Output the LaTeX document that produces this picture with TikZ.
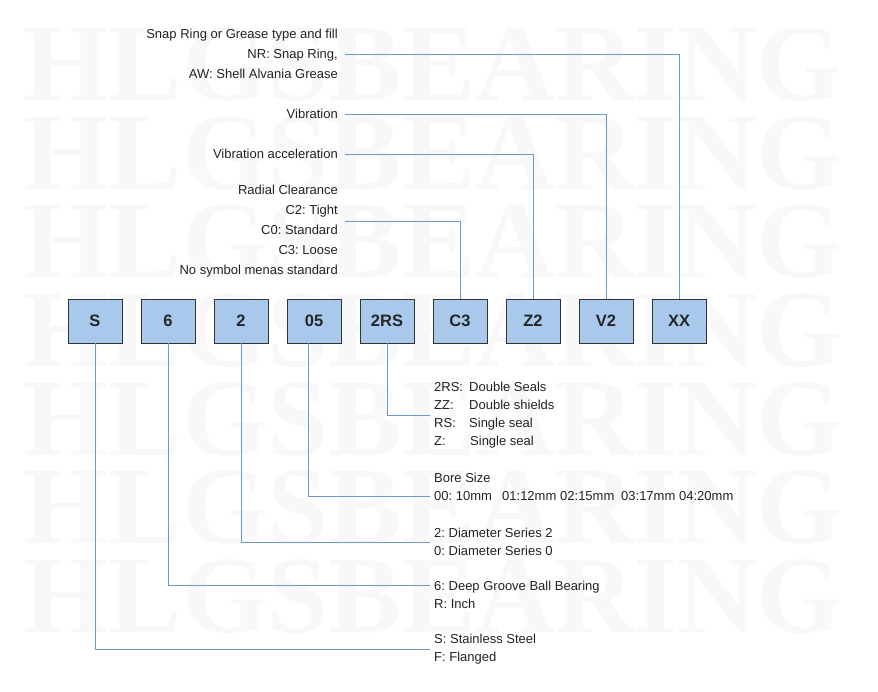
\documentclass[tikz,border=0pt]{standalone}
\usepackage{fontspec}
\setmainfont{Liberation Sans}
\newfontfamily\wmfont{Liberation Serif}
\usepackage{xcolor}
\usetikzlibrary{calc}
\frenchspacing

\definecolor{boxblue}{HTML}{A8C9EC}
\definecolor{linkblue}{HTML}{6C9BCB}
\definecolor{wmgray}{HTML}{F8F8F8}
\definecolor{txtgray}{HTML}{222222}

\begin{document}
\begin{tikzpicture}[x=1pt, y=-1pt,
  codebox/.style={draw=black!80, line width=0.8pt, fill=boxblue,
    minimum width=54pt, minimum height=44pt, inner sep=0pt,
    font=\fontsize{16.5}{16.5}\selectfont\bfseries, text=black!85},
  lefttext/.style={anchor=east, align=right, inner sep=0pt,
    font=\fontsize{13}{20}\selectfont, text=txtgray},
  righttext/.style={anchor=west, align=left, inner sep=0pt,
    font=\fontsize{13}{18}\selectfont, text=txtgray},
  wmtext/.style={anchor=base west, inner sep=0pt,
    font=\wmfont\bfseries\fontsize{110}{110}\selectfont, text=wmgray},
  link/.style={draw=linkblue, line width=0.8pt}]
  \useasboundingbox (0,0) rectangle (878,692);

  % Watermark rows
  \node[wmtext] (wm1) at (23,101) {HLGSBEARING};
  \node[wmtext] (wm2) at (23,189.5) {HLGSBEARING};
  \node[wmtext] (wm3) at (23,278) {HLGSBEARING};
  \node[wmtext] (wm4) at (23,366.5) {HLGSBEARING};
  \node[wmtext] (wm5) at (23,455) {HLGSBEARING};
  \node[wmtext] (wm6) at (23,543.5) {HLGSBEARING};
  \node[wmtext] (wm7) at (23,632) {HLGSBEARING};

  % Code boxes
  \node[codebox] (bS)   at (95,321)  {S};
  \node[codebox] (b6)   at (168,321) {6};
  \node[codebox] (b2)   at (241,321) {2};
  \node[codebox] (b05)  at (314,321) {05};
  \node[codebox] (b2RS) at (387,321) {2RS};
  \node[codebox] (bC3)  at (460,321) {C3};
  \node[codebox] (bZ2)  at (533,321) {Z2};
  \node[codebox] (bV2)  at (606,321) {V2};
  \node[codebox] (bXX)  at (679,321) {XX};

  % Texts above the boxes
  \node[lefttext] (grease) at (338,54)
    {Snap Ring or Grease type and fill\\NR: Snap Ring,\\AW: Shell Alvania Grease};
  \node[lefttext] (vib) at (338,114) {Vibration};
  \node[lefttext] (acc) at (338,154) {Vibration acceleration};
  \node[lefttext] (clear) at (338,231)
    {Radial Clearance\\C2: Tight\\C0: Standard\\C3: Loose\\No symbol menas standard};

  % Texts below the boxes
  \node[righttext] (seal) at (434,415)
    {\makebox[35pt][l]{2RS:}Double Seals\\\makebox[35pt][l]{ZZ:}Double shields\\
     \makebox[35pt][l]{RS:}Single seal\\\makebox[36pt][l]{Z:}Single seal};
  \node[righttext] (bore) at (434,487)
    {Bore Size\\\makebox[68pt][l]{00: 10mm}\makebox[58pt][l]{01:12mm}\makebox[61pt][l]{02:15mm}\makebox[58pt][l]{03:17mm}04:20mm};
  \node[righttext] (diam) at (434,542) {2: Diameter Series 2\\0: Diameter Series 0};
  \node[righttext] (kind) at (434,595) {6: Deep Groove Ball Bearing\\R: Inch};
  \node[righttext] (mat) at (434,649.5) {S: Stainless Steel\\F: Flanged};

  % Connectors on top
  \draw[link] ([xshift=7pt]grease.east) -| (bXX.north);
  \draw[link] ([xshift=7pt]vib.east) -| (bV2.north);
  \draw[link] ([xshift=7pt]acc.east) -| (bZ2.north);
  \draw[link] ([xshift=7pt,yshift=10pt]clear.east) -| (bC3.north);

  % Connectors below
  \draw[link] (b2RS.south) |- ([xshift=-4pt]seal.west);
  \draw[link] ([xshift=-6pt]b05.south) |- ([xshift=-4pt,yshift=-9pt]bore.west);
  \draw[link] (b2.south) |- ([xshift=-4pt]diam.west);
  \draw[link] (b6.south) |- ([xshift=-4pt,yshift=10pt]kind.west);
  \draw[link] (bS.south) |- ([xshift=-4pt]mat.west);
\end{tikzpicture}
\end{document}
